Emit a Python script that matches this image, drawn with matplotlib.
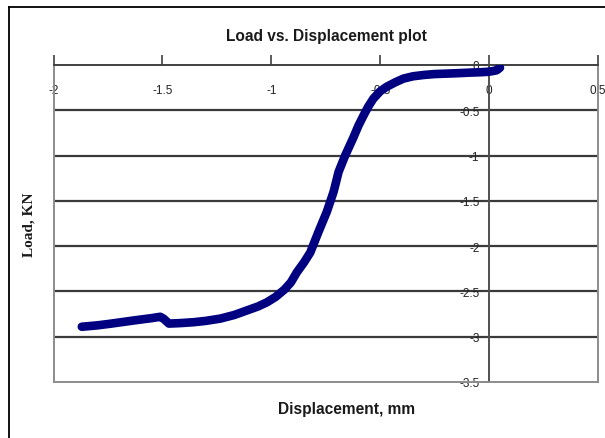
import matplotlib.pyplot as plt
from matplotlib.lines import Line2D

# load-displacement readings (mm, kN)
displacement = [-1.87, -1.80, -1.74, -1.63, -1.55, -1.51, -1.495, -1.47, -1.42, -1.357,
                -1.30, -1.234, -1.17, -1.112, -1.06, -1.02, -0.98, -0.94, -0.91, -0.883,
                -0.85, -0.821, -0.783, -0.745, -0.714, -0.691, -0.661, -0.623, -0.60, -0.577,
                -0.555, -0.531, -0.50, -0.47, -0.43, -0.393, -0.35, -0.30, -0.25, -0.194,
                -0.14, -0.087, -0.04, -0.01, 0.015, 0.035, 0.05]
load = [-2.89, -2.875, -2.857, -2.82, -2.795, -2.78, -2.80, -2.855, -2.85, -2.84,
        -2.825, -2.80, -2.76, -2.71, -2.665, -2.62, -2.56, -2.48, -2.40, -2.29,
        -2.18, -2.07, -1.84, -1.62, -1.40, -1.18, -1.00, -0.80, -0.67, -0.56,
        -0.46, -0.37, -0.29, -0.24, -0.19, -0.15, -0.125, -0.11, -0.10, -0.095,
        -0.09, -0.084, -0.08, -0.076, -0.068, -0.058, -0.03]

x_ticks = [-2, -1.5, -1, -0.5, 0, 0.5]
x_labels = ["-2", "-1.5", "-1", "-0.5", "0", "0.5"]
y_ticks = [0, -0.5, -1, -1.5, -2, -2.5, -3, -3.5]
y_labels = ["0", "-0.5", "-1", "-1.5", "-2", "-2.5", "-3", "-3.5"]

plt.rcParams['font.family'] = ['Liberation Sans', 'DejaVu Sans']

fig = plt.figure(figsize=(6.05, 4.39), dpi=100)
ax = fig.add_axes([53.5 / 605, 1 - 383 / 439, (598 - 53.5) / 605, (383 - 66) / 439])

ax.set_xlim(-2, 0.5)
ax.set_ylim(-3.5, 0)

# horizontal gridlines
for yv in y_ticks[1:-1]:
    ax.axhline(yv, color="#3a3a3a", lw=1.6, zorder=1)

ax.plot(displacement, load, color="#000080", lw=6.2, solid_capstyle="round",
        solid_joinstyle="round", zorder=3)

# spines: top is the x axis, left spine sits at x=0
ax.spines['top'].set_color("#404040")
ax.spines['top'].set_linewidth(1.4)
ax.spines['left'].set_position(('data', 0))
ax.spines['left'].set_color("#505050")
ax.spines['left'].set_linewidth(1.4)
ax.spines['right'].set_color("#8c8c8c")
ax.spines['bottom'].set_color("#8c8c8c")
ax.spines['right'].set_linewidth(1.4)
ax.spines['bottom'].set_linewidth(1.4)
ax.add_line(Line2D([0, 0], [0, 1], transform=ax.transAxes, color="#8c8c8c", lw=1.4, clip_on=False))

ax.set_xticks(x_ticks)
ax.set_xticklabels(x_labels)
ax.set_yticks(y_ticks)
ax.set_yticklabels(y_labels)
ax.tick_params(axis='x', top=True, bottom=False, labeltop=True, labelbottom=False,
               direction='out', length=7, width=1.2, color="#404040", pad=-29,
               labelsize=8.5, labelcolor="#222222")
ax.tick_params(axis='y', direction='out', length=4, width=1.2, color="#404040",
               pad=3, labelsize=8.5, labelcolor="#222222")

fig.text(326 / 605, 1 - 37 / 439, "Load vs. Displacement plot", ha='center', va='center',
         fontsize=11.2, fontweight='bold', color="#1a1a1a")
fig.text(347 / 605, 1 - 410 / 439, "Displacement, mm", ha='center', va='center',
         fontsize=11.2, fontweight='bold', color="#1a1a1a")
fig.text(29 / 605, 1 - 225 / 439, "Load, KN", ha='center', va='center', rotation=90,
         fontsize=11, fontweight='bold', family=['Liberation Serif', 'DejaVu Serif'],
         color="#1a1a1a")

# outer chart frame
fig.add_artist(Line2D([8.5 / 605, 8.5 / 605], [0, 1 - 7.5 / 439], transform=fig.transFigure,
                      color="black", lw=1.3))
fig.add_artist(Line2D([8.5 / 605, 1], [1 - 7.5 / 439, 1 - 7.5 / 439], transform=fig.transFigure,
                      color="black", lw=1.3))

fig.savefig("out.png", dpi=100)
